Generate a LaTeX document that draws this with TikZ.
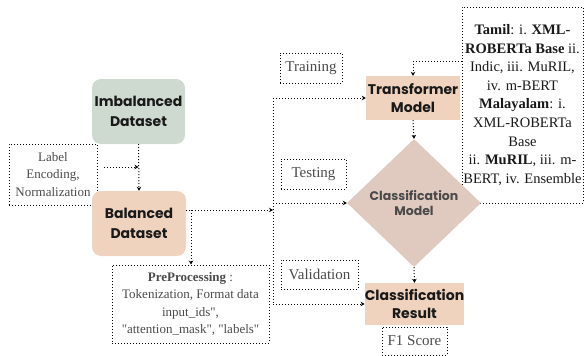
\documentclass[tikz,border=0pt]{standalone}
\usepackage{fontspec}
\setmainfont{Liberation Serif}
\newfontfamily\popfont{Poppins}
\usetikzlibrary{shapes.geometric, arrows.meta}

\definecolor{imbfill}{HTML}{CED9CF}
\definecolor{balfill}{HTML}{EFD3BE}
\definecolor{diafill}{HTML}{E0C9BF}
\definecolor{labtext}{HTML}{4A4A4A}

\begin{document}
\begin{tikzpicture}[x=1pt, y=-1pt]
  % -----------------------------
  % STYLES
  % -----------------------------
  \tikzset{
    dbox/.style={draw, dotted, line width=1pt, inner sep=0pt, align=center, text=labtext},
    tag/.style={dbox, font=\fontsize{15}{19}\selectfont},
    note/.style={dbox, font=\fontsize{13}{17.5}\selectfont},
    rbox/.style={rounded corners=9pt, inner sep=0pt, align=center,
      font=\popfont\bfseries\fontsize{14}{20}\selectfont, text=black!90},
    sbox/.style={fill=balfill, inner sep=0pt, align=center,
      font=\popfont\bfseries\fontsize{14}{18}\selectfont, text=black!90},
    arr/.style={dotted, line width=1pt, -{Stealth[length=4pt, width=4.5pt]}},
    wire/.style={dotted, line width=1pt},
  }

  \useasboundingbox (0,0) rectangle (584,356);

  % -----------------------------
  % BOXES BEHIND
  % -----------------------------
  \node[note, minimum width=88pt, minimum height=61pt] (enc) at (53,174.5)
    {Label\\Encoding,\\Normalization};
  \node[dbox, text=black!90, font=\fontsize{14.5}{18.6}\selectfont,
        minimum width=121pt, minimum height=196pt] (mdl) at (522.5,105)
    {\textbf{Tamil}: i. \textbf{XML-}\\\textbf{ROBERTa Base} ii.\\Indic, iii. MuRIL,\\iv. m-BERT\\
     \textbf{Malayalam}: i.\\XML-ROBERTa\\Base\\ii. \textbf{MuRIL}, iii. m-\\BERT, iv. Ensemble};

  % -----------------------------
  % MAIN FLOW
  % -----------------------------
  \node[rbox, fill=imbfill, minimum width=93pt, minimum height=65pt] (imb) at (138.5,111.5)
    {Imbalanced\\Dataset};
  \node[rbox, fill=balfill, minimum width=94pt, minimum height=65pt] (bal) at (139,223.5)
    {Balanced\\Dataset};
  \node[note, minimum width=157pt, minimum height=78pt] (pre) at (190.5,304)
    {\textbf{PreProcessing} :\\Tokenization, Format data\\input\_ids\textquotedbl,\\
     \textquotedbl attention\_mask\textquotedbl, \textquotedbl labels\textquotedbl};

  \node[sbox, minimum width=94pt, minimum height=44pt] (trans) at (413,98)
    {Transformer\\Model};
  \node[diamond, fill=diafill, inner sep=0pt, minimum width=134pt, minimum height=128pt,
        align=center, text=labtext, font=\popfont\bfseries\fontsize{12.5}{14.5}\selectfont]
    (cls) at (414,203) {Classification\\Model};
  \node[sbox, minimum width=95pt, minimum height=42pt] (res) at (414.5,304)
    {Classification\\Result};

  % stage tags
  \node[tag, minimum width=62pt, minimum height=30pt] (train) at (311,68) {Training};
  \node[tag, minimum width=65pt, minimum height=30pt] (test) at (313.5,174) {Testing};
  \node[tag, minimum width=77pt, minimum height=29pt] (valid) at (319.5,274.5) {Validation};
  \node[tag, minimum width=65pt, minimum height=28pt] (f1) at (414.5,341) {F1 Score};

  % -----------------------------
  % CONNECTORS
  % -----------------------------
  \coordinate (encout) at (104,167);
  \coordinate (split) at (273,210);
  \coordinate (branch) at (191,210);

  \draw[arr] (imb.south) -- (bal.north);
  \draw[arr] (encout) -- (encout -| imb.south);
  \draw[arr] (bal.east |- split) -- (split);
  \draw[arr] (branch) -- (branch |- pre.north);

  \draw[wire] (trans.west -| split) -- (res.west -| split);
  \draw[arr] (trans.west -| split) -- (trans.west);
  \draw[arr] (cls.west -| split) -- (cls.west);
  \draw[arr] (res.west -| split) -- (res.west);

  \draw[arr] (trans.south) -- (cls.north);
  \draw[arr] (cls.south) -- (res.north);
  \draw[arr] (mdl.west |- 0,61) -| (trans.north);
\end{tikzpicture}
\end{document}
